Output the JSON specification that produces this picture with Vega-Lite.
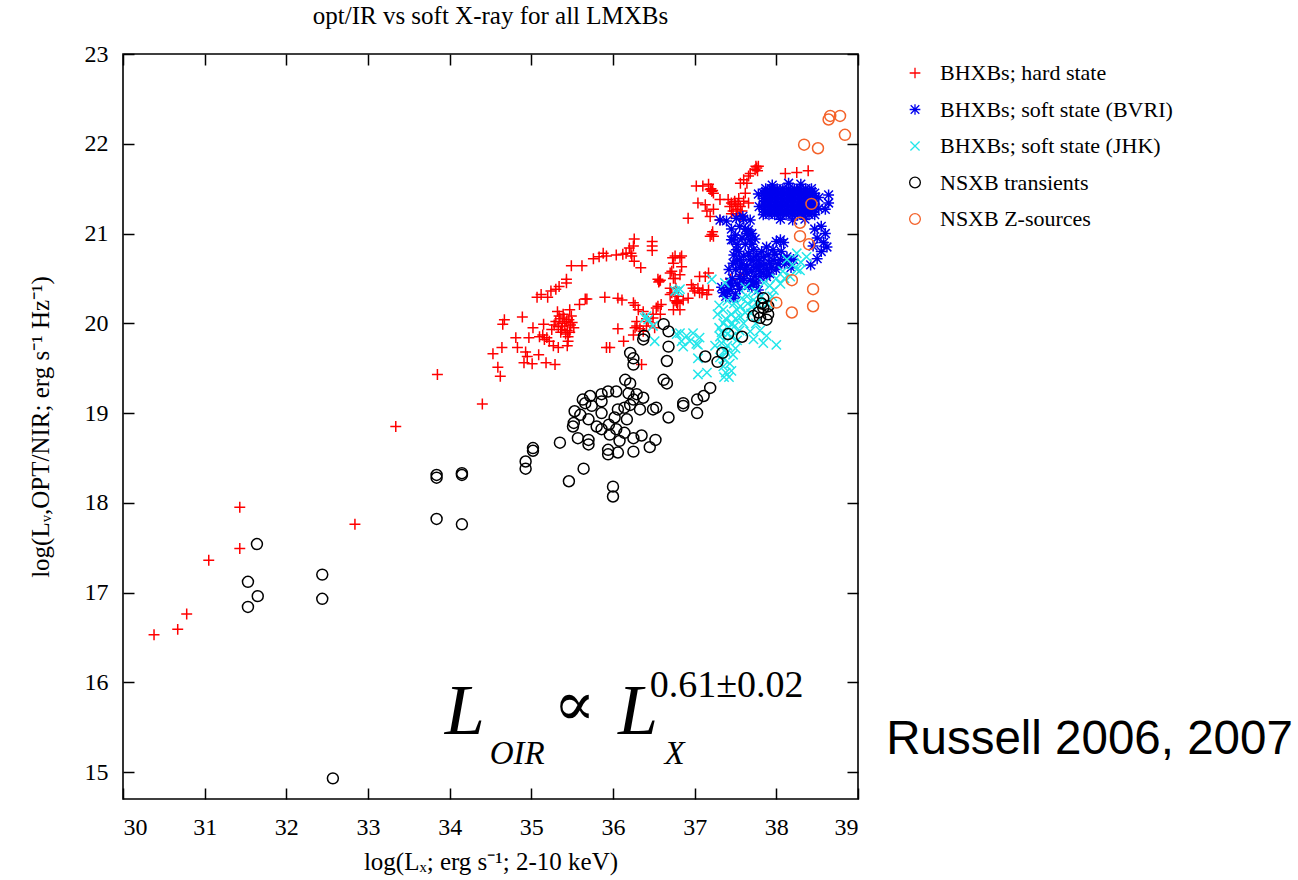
{
  "$schema": "https://vega.github.io/schema/vega-lite/v6.json",
  "width": 735,
  "height": 745,
  "autosize": {"type": "none"},
  "padding": {"left": 123, "top": 54, "right": 440, "bottom": 81},
  "background": "white",
  "title": {"text": "opt/IR vs soft X-ray for all LMXBs", "font": "Liberation Serif", "fontSize": 25, "fontWeight": "normal", "color": "#000", "offset": 13, "anchor": "middle"},
  "config": {
    "view": {"stroke": "#000", "strokeWidth": 1.6},
    "axis": {"labelFont": "Liberation Serif", "labelFontSize": 24, "labelColor": "#000", "titleFont": "Liberation Serif", "titleFontSize": 25, "titleFontWeight": "normal", "titleColor": "#000", "grid": false, "domain": false, "tickColor": "#000", "tickWidth": 1.5, "tickSize": -11}
  },
  "datasets": {
    "pts": [
      {"g":"H","x":30.38,"y":16.53},{"g":"H","x":30.67,"y":16.59},{"g":"H","x":30.78,"y":16.76},{"g":"H","x":31.05,"y":17.36},{"g":"H","x":31.43,"y":17.49},{"g":"H","x":31.43,"y":17.95},{"g":"H","x":32.84,"y":17.76},{"g":"H","x":33.34,"y":18.85},{"g":"H","x":33.85,"y":19.43},{"g":"H","x":34.40,"y":19.10},{"g":"H","x":34.62,"y":19.41},{"g":"H","x":34.59,"y":19.51},{"g":"H","x":34.53,"y":19.66},{"g":"H","x":34.64,"y":19.73},{"g":"H","x":34.67,"y":20.04},{"g":"H","x":34.65,"y":19.99},{"g":"H","x":34.89,"y":20.07},{"g":"H","x":34.81,"y":19.84},{"g":"H","x":34.83,"y":19.73},{"g":"H","x":35.02,"y":19.95},{"g":"H","x":34.97,"y":19.84},{"g":"H","x":34.93,"y":19.68},{"g":"H","x":34.95,"y":19.63},{"g":"H","x":34.91,"y":19.56},{"g":"H","x":35.01,"y":19.55},{"g":"H","x":35.09,"y":19.65},{"g":"H","x":35.10,"y":19.85},{"g":"H","x":35.15,"y":19.99},{"g":"H","x":35.19,"y":19.84},{"g":"H","x":35.18,"y":19.56},{"g":"H","x":35.29,"y":19.54},{"g":"H","x":35.14,"y":19.87},{"g":"H","x":35.16,"y":19.82},{"g":"H","x":35.33,"y":19.73},{"g":"H","x":35.44,"y":19.75},{"g":"H","x":35.45,"y":19.80},{"g":"H","x":35.32,"y":20.13},{"g":"H","x":35.47,"y":20.15},{"g":"H","x":35.49,"y":20.08},
      {"g":"H","x":35.30,"y":20.02},{"g":"H","x":35.33,"y":19.96},{"g":"H","x":35.35,"y":20.05},{"g":"H","x":35.37,"y":19.93},{"g":"H","x":35.38,"y":20.00},{"g":"H","x":35.40,"y":20.06},{"g":"H","x":35.41,"y":19.97},{"g":"H","x":35.43,"y":20.02},{"g":"H","x":35.44,"y":19.92},{"g":"H","x":35.46,"y":20.04},{"g":"H","x":35.48,"y":19.98},{"g":"H","x":35.50,"y":20.01},{"g":"H","x":35.36,"y":19.90},{"g":"H","x":35.42,"y":19.88},{"g":"H","x":35.39,"y":20.10},{"g":"H","x":35.45,"y":19.85},{"g":"H","x":35.52,"y":19.95},{"g":"H","x":35.28,"y":19.98},{"g":"H","x":35.34,"y":20.08},{"g":"H","x":35.47,"y":19.90},{"g":"H","x":35.25,"y":19.93},{"g":"H","x":35.22,"y":19.80},{"g":"H","x":35.27,"y":19.75},
      {"g":"H","x":35.59,"y":20.21},{"g":"H","x":35.66,"y":20.27},{"g":"H","x":35.90,"y":20.29},{"g":"H","x":35.07,"y":20.29},{"g":"H","x":35.12,"y":20.32},{"g":"H","x":35.20,"y":20.29},{"g":"H","x":35.24,"y":20.36},{"g":"H","x":35.30,"y":20.38},{"g":"H","x":35.34,"y":20.41},{"g":"H","x":35.43,"y":20.49},{"g":"H","x":35.43,"y":20.45},{"g":"H","x":35.49,"y":20.64},{"g":"H","x":35.62,"y":20.64},{"g":"H","x":35.76,"y":20.72},{"g":"H","x":35.83,"y":20.74},{"g":"H","x":35.88,"y":20.78},{"g":"H","x":35.92,"y":19.73},
      {"g":"H","x":36.26,"y":20.94},{"g":"H","x":36.25,"y":20.86},{"g":"H","x":36.48,"y":20.91},{"g":"H","x":36.48,"y":20.86},{"g":"H","x":36.48,"y":20.81},{"g":"H","x":36.20,"y":20.84},{"g":"H","x":36.16,"y":20.78},{"g":"H","x":36.22,"y":20.78},{"g":"H","x":36.04,"y":20.76},{"g":"H","x":36.12,"y":20.77},{"g":"H","x":36.23,"y":20.75},{"g":"H","x":36.26,"y":20.69},{"g":"H","x":36.34,"y":20.62},{"g":"H","x":35.92,"y":20.75},
      {"g":"H","x":36.06,"y":20.28},{"g":"H","x":36.11,"y":20.26},{"g":"H","x":35.68,"y":20.27},{"g":"H","x":36.27,"y":20.20},{"g":"H","x":36.31,"y":20.15},{"g":"H","x":36.25,"y":20.23},{"g":"H","x":36.37,"y":20.13},
      {"g":"H","x":36.55,"y":20.49},{"g":"H","x":36.57,"y":20.47},{"g":"H","x":36.56,"y":20.46},{"g":"H","x":36.58,"y":20.48},
      {"g":"H","x":36.73,"y":20.73},{"g":"H","x":36.74,"y":20.67},{"g":"H","x":36.72,"y":20.58},{"g":"H","x":36.74,"y":20.50},{"g":"H","x":36.82,"y":20.73},{"g":"H","x":36.84,"y":20.63},{"g":"H","x":36.70,"y":20.56},{"g":"H","x":36.82,"y":20.54},{"g":"H","x":36.76,"y":20.50},{"g":"H","x":36.84,"y":20.75},{"g":"H","x":36.76,"y":20.75},
      {"g":"H","x":36.70,"y":20.32},{"g":"H","x":36.76,"y":20.25},{"g":"H","x":36.74,"y":20.15},{"g":"H","x":36.82,"y":20.15},{"g":"H","x":36.53,"y":20.17},{"g":"H","x":36.49,"y":20.10},{"g":"H","x":36.41,"y":20.05},{"g":"H","x":36.29,"y":20.02},{"g":"H","x":36.27,"y":19.95},{"g":"H","x":36.25,"y":19.87},{"g":"H","x":36.37,"y":19.91},{"g":"H","x":36.06,"y":19.94},{"g":"H","x":36.13,"y":19.80},{"g":"H","x":35.96,"y":19.73},{"g":"H","x":36.55,"y":20.19},{"g":"H","x":36.59,"y":20.21},{"g":"H","x":36.58,"y":20.10},{"g":"H","x":36.35,"y":19.54},{"g":"H","x":36.43,"y":20.02},{"g":"H","x":36.41,"y":19.97},{"g":"H","x":36.33,"y":19.94},{"g":"H","x":36.49,"y":20.06},{"g":"H","x":36.51,"y":19.95},{"g":"H","x":36.29,"y":19.97},
      {"g":"H","x":36.70,"y":20.39},{"g":"H","x":36.72,"y":20.34},{"g":"H","x":36.77,"y":20.39},{"g":"H","x":36.80,"y":20.30},{"g":"H","x":36.79,"y":20.24},{"g":"H","x":36.78,"y":20.23},{"g":"H","x":36.79,"y":20.22},{"g":"H","x":36.78,"y":20.25},
      {"g":"H","x":36.98,"y":20.39},{"g":"H","x":37.04,"y":20.39},{"g":"H","x":37.00,"y":20.36},{"g":"H","x":37.06,"y":20.34},{"g":"H","x":37.10,"y":20.37},{"g":"H","x":37.15,"y":20.32},{"g":"H","x":36.92,"y":20.28},{"g":"H","x":36.96,"y":20.43},{"g":"H","x":37.06,"y":20.52},{"g":"H","x":37.17,"y":20.56},{"g":"H","x":37.13,"y":20.52},{"g":"H","x":37.17,"y":20.37},{"g":"H","x":37.09,"y":20.34},
      {"g":"H","x":37.21,"y":20.99},{"g":"H","x":37.23,"y":20.97},{"g":"H","x":37.19,"y":20.97},{"g":"H","x":37.22,"y":21.02},
      {"g":"H","x":37.02,"y":21.53},{"g":"H","x":37.10,"y":21.53},{"g":"H","x":37.17,"y":21.55},{"g":"H","x":37.19,"y":21.49},{"g":"H","x":37.21,"y":21.47},{"g":"H","x":37.23,"y":21.45},{"g":"H","x":37.20,"y":21.50},{"g":"H","x":37.22,"y":21.48},
      {"g":"H","x":37.04,"y":21.34},{"g":"H","x":37.13,"y":21.32},{"g":"H","x":37.15,"y":21.25},{"g":"H","x":37.23,"y":21.27},{"g":"H","x":37.31,"y":21.38},{"g":"H","x":37.19,"y":21.19},{"g":"H","x":37.31,"y":21.15},{"g":"H","x":36.92,"y":21.17},
      {"g":"H","x":37.41,"y":21.38},{"g":"H","x":37.45,"y":21.34},{"g":"H","x":37.50,"y":21.32},{"g":"H","x":37.52,"y":21.27},{"g":"H","x":37.56,"y":21.30},{"g":"H","x":37.58,"y":21.25},{"g":"H","x":37.60,"y":21.36},{"g":"H","x":37.54,"y":21.39},{"g":"H","x":37.62,"y":21.45},{"g":"H","x":37.66,"y":21.34},{"g":"H","x":37.43,"y":21.30},{"g":"H","x":37.47,"y":21.25},{"g":"H","x":37.49,"y":21.36},{"g":"H","x":37.53,"y":21.33},{"g":"H","x":37.45,"y":21.22},{"g":"H","x":37.51,"y":21.22},{"g":"H","x":37.56,"y":21.20},
      {"g":"H","x":37.56,"y":21.56},{"g":"H","x":37.60,"y":21.60},{"g":"H","x":37.66,"y":21.64},{"g":"H","x":37.64,"y":21.56},{"g":"H","x":37.68,"y":21.67},{"g":"H","x":37.74,"y":21.71},{"g":"H","x":37.76,"y":21.73},{"g":"H","x":37.78,"y":21.75},{"g":"H","x":37.75,"y":21.75},{"g":"H","x":37.77,"y":21.70},
      {"g":"H","x":38.11,"y":21.67},{"g":"H","x":38.25,"y":21.68},{"g":"H","x":38.39,"y":21.70},{"g":"H","x":37.56,"y":20.54},{"g":"H","x":37.44,"y":20.49},{"g":"H","x":36.86,"y":20.26},

      {"g":"B","x":37.84,"y":21.21},{"g":"B","x":37.91,"y":21.21},{"g":"B","x":37.98,"y":21.21},{"g":"B","x":38.05,"y":21.21},{"g":"B","x":38.12,"y":21.21},{"g":"B","x":38.19,"y":21.21},{"g":"B","x":38.26,"y":21.21},{"g":"B","x":38.33,"y":21.21},{"g":"B","x":38.40,"y":21.21},{"g":"B","x":38.47,"y":21.21},
      {"g":"B","x":37.84,"y":21.27},{"g":"B","x":37.91,"y":21.27},{"g":"B","x":37.98,"y":21.27},{"g":"B","x":38.05,"y":21.27},{"g":"B","x":38.12,"y":21.27},{"g":"B","x":38.19,"y":21.27},{"g":"B","x":38.26,"y":21.27},{"g":"B","x":38.33,"y":21.27},{"g":"B","x":38.40,"y":21.27},{"g":"B","x":38.47,"y":21.27},
      {"g":"B","x":37.84,"y":21.33},{"g":"B","x":37.91,"y":21.33},{"g":"B","x":37.98,"y":21.33},{"g":"B","x":38.05,"y":21.33},{"g":"B","x":38.12,"y":21.33},{"g":"B","x":38.19,"y":21.33},{"g":"B","x":38.26,"y":21.33},{"g":"B","x":38.33,"y":21.33},{"g":"B","x":38.40,"y":21.33},{"g":"B","x":38.47,"y":21.33},
      {"g":"B","x":37.84,"y":21.39},{"g":"B","x":37.91,"y":21.39},{"g":"B","x":37.98,"y":21.39},{"g":"B","x":38.05,"y":21.39},{"g":"B","x":38.12,"y":21.39},{"g":"B","x":38.19,"y":21.39},{"g":"B","x":38.26,"y":21.39},{"g":"B","x":38.33,"y":21.39},{"g":"B","x":38.40,"y":21.39},{"g":"B","x":38.47,"y":21.39},
      {"g":"B","x":37.84,"y":21.45},{"g":"B","x":37.91,"y":21.45},{"g":"B","x":37.98,"y":21.45},{"g":"B","x":38.05,"y":21.45},{"g":"B","x":38.12,"y":21.45},{"g":"B","x":38.19,"y":21.45},{"g":"B","x":38.26,"y":21.45},{"g":"B","x":38.33,"y":21.45},{"g":"B","x":38.40,"y":21.45},{"g":"B","x":38.47,"y":21.45},
      {"g":"B","x":37.87,"y":21.50},{"g":"B","x":37.94,"y":21.50},{"g":"B","x":38.01,"y":21.50},{"g":"B","x":38.08,"y":21.50},{"g":"B","x":38.15,"y":21.50},{"g":"B","x":38.22,"y":21.50},{"g":"B","x":38.29,"y":21.50},{"g":"B","x":38.36,"y":21.50},{"g":"B","x":38.43,"y":21.50},
      {"g":"B","x":37.87,"y":21.24},{"g":"B","x":37.94,"y":21.24},{"g":"B","x":38.01,"y":21.24},{"g":"B","x":38.08,"y":21.24},{"g":"B","x":38.15,"y":21.24},{"g":"B","x":38.22,"y":21.24},{"g":"B","x":38.29,"y":21.24},{"g":"B","x":38.36,"y":21.24},{"g":"B","x":38.43,"y":21.24},
      {"g":"B","x":37.87,"y":21.30},{"g":"B","x":37.94,"y":21.30},{"g":"B","x":38.01,"y":21.30},{"g":"B","x":38.08,"y":21.30},{"g":"B","x":38.15,"y":21.30},{"g":"B","x":38.22,"y":21.30},{"g":"B","x":38.29,"y":21.30},{"g":"B","x":38.36,"y":21.30},{"g":"B","x":38.43,"y":21.30},
      {"g":"B","x":37.87,"y":21.36},{"g":"B","x":37.94,"y":21.36},{"g":"B","x":38.01,"y":21.36},{"g":"B","x":38.08,"y":21.36},{"g":"B","x":38.15,"y":21.36},{"g":"B","x":38.22,"y":21.36},{"g":"B","x":38.29,"y":21.36},{"g":"B","x":38.36,"y":21.36},{"g":"B","x":38.43,"y":21.36},
      {"g":"B","x":37.87,"y":21.42},{"g":"B","x":37.94,"y":21.42},{"g":"B","x":38.01,"y":21.42},{"g":"B","x":38.08,"y":21.42},{"g":"B","x":38.15,"y":21.42},{"g":"B","x":38.22,"y":21.42},{"g":"B","x":38.29,"y":21.42},{"g":"B","x":38.36,"y":21.42},{"g":"B","x":38.43,"y":21.42},
      {"g":"B","x":37.87,"y":21.47},{"g":"B","x":37.94,"y":21.47},{"g":"B","x":38.01,"y":21.47},{"g":"B","x":38.08,"y":21.47},{"g":"B","x":38.15,"y":21.47},{"g":"B","x":38.22,"y":21.47},{"g":"B","x":38.29,"y":21.47},{"g":"B","x":38.36,"y":21.47},{"g":"B","x":38.43,"y":21.47},
      {"g":"B","x":37.78,"y":21.44},{"g":"B","x":37.79,"y":21.30},{"g":"B","x":38.52,"y":21.40},{"g":"B","x":38.52,"y":21.28},{"g":"B","x":38.64,"y":21.43},{"g":"B","x":38.64,"y":21.34},{"g":"B","x":38.60,"y":21.27},{"g":"B","x":38.05,"y":21.16},{"g":"B","x":38.20,"y":21.15},{"g":"B","x":38.35,"y":21.16},{"g":"B","x":37.95,"y":21.54},{"g":"B","x":38.15,"y":21.56},{"g":"B","x":38.30,"y":21.55},
      {"g":"B","x":37.31,"y":21.15},{"g":"B","x":37.39,"y":21.14},{"g":"B","x":37.51,"y":21.17},{"g":"B","x":37.59,"y":21.19},{"g":"B","x":37.68,"y":21.15},{"g":"B","x":37.45,"y":20.93},{"g":"B","x":37.60,"y":21.16},{"g":"B","x":37.66,"y":21.04},
      {"g":"B","x":37.47,"y":20.93},{"g":"B","x":37.51,"y":20.82},{"g":"B","x":37.47,"y":20.67},{"g":"B","x":37.55,"y":20.71},{"g":"B","x":37.64,"y":21.00},{"g":"B","x":37.68,"y":20.93},{"g":"B","x":37.72,"y":20.82},{"g":"B","x":37.68,"y":20.71},{"g":"B","x":37.76,"y":20.63},{"g":"B","x":37.80,"y":20.52},{"g":"B","x":37.88,"y":20.60},{"g":"B","x":37.84,"y":20.74},{"g":"B","x":37.88,"y":20.85},{"g":"B","x":37.96,"y":20.82},{"g":"B","x":38.05,"y":20.93},{"g":"B","x":37.92,"y":20.67},{"g":"B","x":38.05,"y":20.71},{"g":"B","x":38.13,"y":20.74},{"g":"B","x":38.21,"y":20.71},{"g":"B","x":37.55,"y":20.52},{"g":"B","x":37.64,"y":20.56},{"g":"B","x":37.72,"y":20.45},{"g":"B","x":37.78,"y":20.37},
      {"g":"B","x":37.62,"y":21.05},{"g":"B","x":37.66,"y":20.98},{"g":"B","x":37.70,"y":20.88},{"g":"B","x":37.62,"y":20.88},{"g":"B","x":37.66,"y":20.78},{"g":"B","x":37.72,"y":20.70},{"g":"B","x":37.60,"y":20.75},{"g":"B","x":37.64,"y":20.64},{"g":"B","x":37.70,"y":20.58},{"g":"B","x":37.68,"y":20.48},{"g":"B","x":37.74,"y":20.52},{"g":"B","x":37.62,"y":20.60},{"g":"B","x":37.58,"y":20.66},{"g":"B","x":37.54,"y":20.80},{"g":"B","x":37.50,"y":20.60},{"g":"B","x":37.80,"y":20.66},{"g":"B","x":37.76,"y":20.76},{"g":"B","x":37.84,"y":20.56},{"g":"B","x":37.92,"y":20.55},{"g":"B","x":38.00,"y":20.60},{"g":"B","x":37.96,"y":20.70},{"g":"B","x":38.10,"y":20.66},{"g":"B","x":38.18,"y":20.62},{"g":"B","x":38.00,"y":20.91},{"g":"B","x":38.09,"y":20.90},
      {"g":"B","x":37.45,"y":21.05},{"g":"B","x":37.50,"y":20.98},{"g":"B","x":37.55,"y":21.08},{"g":"B","x":37.52,"y":20.88},{"g":"B","x":37.58,"y":20.95},{"g":"B","x":37.48,"y":20.76},{"g":"B","x":37.56,"y":20.62},{"g":"B","x":37.52,"y":20.70},{"g":"B","x":37.60,"y":20.50},{"g":"B","x":37.66,"y":20.42},{"g":"B","x":37.74,"y":20.62},{"g":"B","x":37.78,"y":20.70},{"g":"B","x":37.82,"y":20.80},{"g":"B","x":37.86,"y":20.66},{"g":"B","x":37.90,"y":20.76},{"g":"B","x":37.94,"y":20.62},{"g":"B","x":37.98,"y":20.77},{"g":"B","x":38.02,"y":20.66},{"g":"B","x":38.06,"y":20.80},{"g":"B","x":38.15,"y":20.70},{"g":"B","x":37.70,"y":21.00},{"g":"B","x":37.74,"y":20.94},{"g":"B","x":37.70,"y":20.40},{"g":"B","x":37.76,"y":20.45},{"g":"B","x":37.80,"y":20.58},{"g":"B","x":37.88,"y":20.52},{"g":"B","x":37.46,"y":20.50},{"g":"B","x":37.42,"y":20.60},
      {"g":"B","x":37.33,"y":20.40},{"g":"B","x":37.40,"y":20.35},{"g":"B","x":37.45,"y":20.42},{"g":"B","x":37.50,"y":20.33},{"g":"B","x":37.55,"y":20.38},{"g":"B","x":37.38,"y":20.30},{"g":"B","x":37.48,"y":20.28},{"g":"B","x":37.35,"y":20.34},{"g":"B","x":37.43,"y":20.46},{"g":"B","x":37.58,"y":20.45},{"g":"B","x":37.52,"y":20.44},{"g":"B","x":37.42,"y":20.38},
      {"g":"B","x":38.47,"y":21.05},{"g":"B","x":38.55,"y":21.08},{"g":"B","x":38.60,"y":21.00},{"g":"B","x":38.50,"y":20.95},{"g":"B","x":38.58,"y":20.90},{"g":"B","x":38.45,"y":20.86},{"g":"B","x":38.55,"y":20.80},{"g":"B","x":38.62,"y":20.85},{"g":"B","x":38.50,"y":20.72},{"g":"B","x":38.42,"y":20.65},

      {"g":"J","x":36.80,"y":20.36},{"g":"J","x":36.76,"y":20.36},{"g":"J","x":36.43,"y":20.04},{"g":"J","x":36.39,"y":20.06},{"g":"J","x":36.49,"y":19.97},{"g":"J","x":36.51,"y":19.80},{"g":"J","x":36.78,"y":19.88},{"g":"J","x":36.41,"y":20.08},{"g":"J","x":36.82,"y":20.38},{"g":"J","x":37.21,"y":20.49},{"g":"J","x":37.37,"y":20.45},
      {"g":"J","x":36.82,"y":19.89},{"g":"J","x":36.90,"y":19.86},{"g":"J","x":36.98,"y":19.89},{"g":"J","x":36.84,"y":19.80},{"g":"J","x":36.94,"y":19.80},{"g":"J","x":37.06,"y":19.84},{"g":"J","x":37.04,"y":19.76},{"g":"J","x":36.86,"y":19.74},{"g":"J","x":37.02,"y":19.77},{"g":"J","x":37.04,"y":19.61},{"g":"J","x":37.04,"y":19.43},
      {"g":"J","x":38.13,"y":20.71},{"g":"J","x":38.25,"y":20.78},{"g":"J","x":38.37,"y":20.74},{"g":"J","x":38.29,"y":20.59},{"g":"J","x":38.17,"y":20.52},{"g":"J","x":38.05,"y":20.44},{"g":"J","x":37.97,"y":20.37},{"g":"J","x":37.89,"y":20.22},{"g":"J","x":37.77,"y":20.22},{"g":"J","x":37.69,"y":20.11},{"g":"J","x":37.56,"y":20.07},{"g":"J","x":37.48,"y":19.96},{"g":"J","x":37.35,"y":20.00},{"g":"J","x":37.31,"y":19.85},{"g":"J","x":37.52,"y":19.81},{"g":"J","x":37.39,"y":19.67},{"g":"J","x":37.35,"y":19.52},{"g":"J","x":37.15,"y":19.45},{"g":"J","x":38.00,"y":19.76},{"g":"J","x":37.68,"y":19.91},{"g":"J","x":37.56,"y":20.19},{"g":"J","x":37.64,"y":20.30},{"g":"J","x":37.35,"y":20.15},{"g":"J","x":37.72,"y":19.82},{"g":"J","x":37.84,"y":19.78},
      {"g":"J","x":37.30,"y":20.20},{"g":"J","x":37.40,"y":20.25},{"g":"J","x":37.45,"y":20.10},{"g":"J","x":37.38,"y":20.05},{"g":"J","x":37.42,"y":19.95},{"g":"J","x":37.30,"y":19.95},{"g":"J","x":37.33,"y":19.78},{"g":"J","x":37.45,"y":19.85},{"g":"J","x":37.40,"y":19.75},{"g":"J","x":37.47,"y":19.65},{"g":"J","x":37.36,"y":19.60},{"g":"J","x":37.43,"y":19.55},{"g":"J","x":37.38,"y":19.45},{"g":"J","x":37.42,"y":19.40},{"g":"J","x":37.50,"y":19.72},{"g":"J","x":37.55,"y":19.92},{"g":"J","x":37.60,"y":20.00},{"g":"J","x":37.50,"y":20.05},{"g":"J","x":37.62,"y":20.12},
      {"g":"J","x":37.75,"y":20.00},{"g":"J","x":37.80,"y":19.92},{"g":"J","x":37.88,"y":19.86},{"g":"J","x":37.70,"y":20.18},{"g":"J","x":37.82,"y":20.30},{"g":"J","x":37.92,"y":20.42},{"g":"J","x":38.00,"y":20.50},{"g":"J","x":38.08,"y":20.58},{"g":"J","x":38.20,"y":20.65},{"g":"J","x":38.30,"y":20.68},{"g":"J","x":37.75,"y":20.35},{"g":"J","x":37.85,"y":20.45},{"g":"J","x":37.62,"y":20.40},
      {"g":"J","x":37.28,"y":20.10},{"g":"J","x":37.33,"y":19.90},{"g":"J","x":37.40,"y":19.88},{"g":"J","x":37.46,"y":20.00},{"g":"J","x":37.52,"y":20.15},{"g":"J","x":37.58,"y":20.28},{"g":"J","x":37.48,"y":20.22},{"g":"J","x":37.37,"y":19.70},{"g":"J","x":37.31,"y":19.62},{"g":"J","x":37.45,"y":19.47},{"g":"J","x":37.36,"y":19.40},{"g":"J","x":37.25,"y":19.75},{"g":"J","x":37.65,"y":20.22},{"g":"J","x":37.72,"y":20.26},{"g":"J","x":37.95,"y":20.30},{"g":"J","x":38.10,"y":20.50},{"g":"J","x":38.25,"y":20.60},

      {"g":"T","x":31.64,"y":17.54},{"g":"T","x":31.53,"y":17.12},{"g":"T","x":31.65,"y":16.96},{"g":"T","x":31.53,"y":16.84},{"g":"T","x":32.44,"y":17.20},{"g":"T","x":32.44,"y":16.93},{"g":"T","x":32.57,"y":14.93},{"g":"T","x":33.84,"y":18.28},{"g":"T","x":33.84,"y":18.31},{"g":"T","x":34.15,"y":18.31},{"g":"T","x":34.15,"y":18.33},{"g":"T","x":33.84,"y":17.82},{"g":"T","x":34.15,"y":17.76},
      {"g":"T","x":34.93,"y":18.46},{"g":"T","x":34.93,"y":18.38},{"g":"T","x":35.02,"y":18.58},{"g":"T","x":35.02,"y":18.61},{"g":"T","x":35.35,"y":18.67},{"g":"T","x":35.46,"y":18.24},{"g":"T","x":35.64,"y":18.38},{"g":"T","x":36.00,"y":18.18},{"g":"T","x":36.00,"y":18.07},{"g":"T","x":35.70,"y":18.70},{"g":"T","x":35.70,"y":18.65},{"g":"T","x":35.57,"y":18.72},{"g":"T","x":35.51,"y":18.85},{"g":"T","x":35.52,"y":18.89},{"g":"T","x":35.53,"y":19.02},{"g":"T","x":35.70,"y":18.93},{"g":"T","x":35.72,"y":19.19},{"g":"T","x":35.66,"y":19.11},{"g":"T","x":35.74,"y":19.08},{"g":"T","x":35.86,"y":19.21},{"g":"T","x":35.86,"y":19.13},{"g":"T","x":35.86,"y":19.00},{"g":"T","x":35.94,"y":19.24},{"g":"T","x":36.04,"y":19.24},{"g":"T","x":35.80,"y":18.85},{"g":"T","x":35.86,"y":18.82},{"g":"T","x":35.95,"y":18.87},{"g":"T","x":35.96,"y":18.76},{"g":"T","x":36.04,"y":18.82},{"g":"T","x":36.08,"y":18.69},{"g":"T","x":35.94,"y":18.59},{"g":"T","x":35.94,"y":18.54},{"g":"T","x":36.06,"y":18.56},{"g":"T","x":36.06,"y":19.04},{"g":"T","x":36.14,"y":19.06},{"g":"T","x":36.17,"y":18.93},{"g":"T","x":36.14,"y":18.78},{"g":"T","x":36.25,"y":18.72},{"g":"T","x":36.21,"y":19.09},{"g":"T","x":36.15,"y":19.37},{"g":"T","x":36.21,"y":19.33},{"g":"T","x":36.19,"y":19.22},{"g":"T","x":36.25,"y":19.15},{"g":"T","x":36.29,"y":19.21},{"g":"T","x":36.02,"y":18.95},{"g":"T","x":35.63,"y":19.15},{"g":"T","x":35.60,"y":18.98},
      {"g":"T","x":36.37,"y":19.17},{"g":"T","x":36.49,"y":19.04},{"g":"T","x":36.53,"y":19.06},{"g":"T","x":36.33,"y":19.04},{"g":"T","x":36.68,"y":18.95},{"g":"T","x":36.45,"y":18.62},{"g":"T","x":36.52,"y":18.70},{"g":"T","x":36.35,"y":18.75},{"g":"T","x":36.25,"y":18.57},
      {"g":"T","x":36.62,"y":19.99},{"g":"T","x":36.68,"y":19.91},{"g":"T","x":36.68,"y":19.74},{"g":"T","x":36.66,"y":19.58},{"g":"T","x":36.37,"y":19.82},{"g":"T","x":36.38,"y":19.86},{"g":"T","x":36.21,"y":19.67},{"g":"T","x":36.25,"y":19.61},{"g":"T","x":36.25,"y":19.54},{"g":"T","x":36.62,"y":19.37},{"g":"T","x":36.66,"y":19.33},{"g":"T","x":36.86,"y":19.11},{"g":"T","x":36.86,"y":19.08},{"g":"T","x":37.03,"y":19.15},{"g":"T","x":37.03,"y":19.00},{"g":"T","x":37.11,"y":19.19},{"g":"T","x":37.19,"y":19.28},{"g":"T","x":37.13,"y":19.63},{"g":"T","x":37.28,"y":19.57},{"g":"T","x":37.34,"y":19.67},{"g":"T","x":37.41,"y":19.88},{"g":"T","x":37.58,"y":19.85},
      {"g":"T","x":37.84,"y":20.28},{"g":"T","x":37.82,"y":20.22},{"g":"T","x":37.90,"y":20.19},{"g":"T","x":37.72,"y":20.08},{"g":"T","x":37.80,"y":20.06},{"g":"T","x":37.88,"y":20.04},{"g":"T","x":37.78,"y":20.12},{"g":"T","x":37.90,"y":20.10},{"g":"T","x":37.84,"y":20.17},

      {"g":"Z","x":38.64,"y":22.27},{"g":"Z","x":38.66,"y":22.31},{"g":"Z","x":38.78,"y":22.31},{"g":"Z","x":38.84,"y":22.10},{"g":"Z","x":38.34,"y":21.99},{"g":"Z","x":38.51,"y":21.95},{"g":"Z","x":38.43,"y":21.33},{"g":"Z","x":38.29,"y":21.12},{"g":"Z","x":38.29,"y":20.97},{"g":"Z","x":38.40,"y":20.88},{"g":"Z","x":38.19,"y":20.48},{"g":"Z","x":38.45,"y":20.38},{"g":"Z","x":38.45,"y":20.19},{"g":"Z","x":38.19,"y":20.12},{"g":"Z","x":38.00,"y":20.23}
    ]
  },
  "resolve": {"axis": {"x": "independent", "y": "independent"}},
  "layer": [
    {
      "data": {"name": "pts"},
      "mark": {"type": "point", "filled": false, "strokeWidth": 1.5, "opacity": 1, "size": 120},
      "encoding": {
        "x": {"field": "x", "type": "quantitative", "scale": {"domain": [30, 39], "nice": false, "zero": false},
              "axis": {"orient": "bottom", "values": [30,31,32,33,34,35,36,37,38,39], "title": "log(Lₓ; erg s⁻¹; 2-10 keV)", "labelPadding": 27, "titlePadding": 10}},
        "y": {"field": "y", "type": "quantitative", "scale": {"domain": [14.7, 23], "nice": false, "zero": false},
              "axis": {"orient": "left", "values": [15,16,17,18,19,20,21,22,23], "title": "log(Lᵥ,OPT/NIR; erg s⁻¹ Hz⁻¹)", "labelPadding": 26, "titlePadding": 31}},
        "color": {"field": "g", "type": "nominal",
                  "scale": {"domain": ["H","B","J","T","Z"], "range": ["#ff0000","#0000ee","#22e6ea","#000000","#f4622a"]},
                  "legend": {"orient": "none", "legendX": 781, "legendY": 8, "title": null, "padding": 0, "labelFont": "Liberation Serif", "labelFontSize": 22, "labelColor": "#000", "labelLimit": 0, "symbolSize": 115, "symbolStrokeWidth": 1.3, "rowPadding": 14.5, "labelOffset": 14,
                             "labelExpr": "datum.label == 'H' ? 'BHXBs; hard state' : datum.label == 'B' ? 'BHXBs; soft state (BVRI)' : datum.label == 'J' ? 'BHXBs; soft state (JHK)' : datum.label == 'T' ? 'NSXB transients' : 'NSXB Z-sources'"}},
        "shape": {"field": "g", "type": "nominal",
                  "scale": {"domain": ["H","B","J","T","Z"], "range": ["M-1,0H1M0,-1V1", "M-1,0H1M0,-1V1M-0.8,-0.8L0.8,0.8M-0.8,0.8L0.8,-0.8", "M-0.85,-0.85L0.85,0.85M-0.85,0.85L0.85,-0.85", "circle", "circle"]},
                  "legend": {"orient": "none", "legendX": 781, "legendY": 8, "title": null, "padding": 0, "labelFont": "Liberation Serif", "labelFontSize": 22, "labelColor": "#000", "labelLimit": 0, "symbolSize": 115, "symbolStrokeWidth": 1.3, "rowPadding": 14.5, "labelOffset": 14,
                             "labelExpr": "datum.label == 'H' ? 'BHXBs; hard state' : datum.label == 'B' ? 'BHXBs; soft state (BVRI)' : datum.label == 'J' ? 'BHXBs; soft state (JHK)' : datum.label == 'T' ? 'NSXB transients' : 'NSXB Z-sources'"}}
      }
    },
    {
      "data": {"values": [{"x": 30, "y": 15}]},
      "mark": {"type": "point", "opacity": 0},
      "encoding": {
        "x": {"field": "x", "type": "quantitative", "axis": {"orient": "top", "values": [30,31,32,33,34,35,36,37,38,39], "labels": false, "title": null}},
        "y": {"field": "y", "type": "quantitative", "axis": {"orient": "right", "values": [15,16,17,18,19,20,21,22,23], "labels": false, "title": null}}
      }
    },
    {
      "data": {"values": [{"x": 33.94, "y": 15.42, "t": "L"}, {"x": 36.06, "y": 15.42, "t": "L"}]},
      "mark": {"type": "text", "font": "Liberation Serif", "fontStyle": "italic", "fontSize": 72, "align": "left", "baseline": "alphabetic", "color": "#000"},
      "encoding": {"x": {"field": "x", "type": "quantitative", "axis": null}, "y": {"field": "y", "type": "quantitative", "axis": null}, "text": {"field": "t"}}
    },
    {
      "data": {"values": [{"x": 34.49, "y": 15.09, "t": "OIR"}, {"x": 36.63, "y": 15.09, "t": "X"}]},
      "mark": {"type": "text", "font": "Liberation Serif", "fontStyle": "italic", "fontSize": 33, "align": "left", "baseline": "alphabetic", "color": "#000"},
      "encoding": {"x": {"field": "x", "type": "quantitative", "axis": null}, "y": {"field": "y", "type": "quantitative", "axis": null}, "text": {"field": "t"}}
    },
    {
      "data": {"values": [{"x": 35.27, "y": 15.52, "t": "∝"}]},
      "mark": {"type": "text", "font": "DejaVu Serif", "fontSize": 62, "align": "left", "baseline": "alphabetic", "color": "#000"},
      "encoding": {"x": {"field": "x", "type": "quantitative", "axis": null}, "y": {"field": "y", "type": "quantitative", "axis": null}, "text": {"field": "t"}}
    },
    {
      "data": {"values": [{"x": 36.45, "y": 15.84, "t": "0.61±0.02"}]},
      "mark": {"type": "text", "font": "Liberation Serif", "fontSize": 38, "align": "left", "baseline": "alphabetic", "color": "#000"},
      "encoding": {"x": {"field": "x", "type": "quantitative", "axis": null}, "y": {"field": "y", "type": "quantitative", "axis": null}, "text": {"field": "t"}}
    },
    {
      "data": {"values": [{"x": 39.345, "y": 15.20, "t": "Russell 2006, 2007"}]},
      "mark": {"type": "text", "font": "Liberation Sans", "fontSize": 47.5, "align": "left", "baseline": "alphabetic", "color": "#000"},
      "encoding": {"x": {"field": "x", "type": "quantitative", "axis": null}, "y": {"field": "y", "type": "quantitative", "axis": null}, "text": {"field": "t"}}
    }
  ]
}
